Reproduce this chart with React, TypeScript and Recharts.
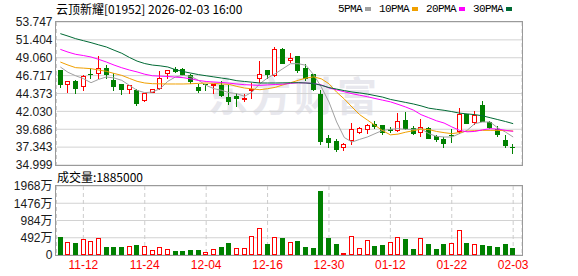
import { ComposedChart, Bar, Line, XAxis, YAxis, CartesianGrid } from 'recharts'

const dates = [
  '11-07', '11-10', '11-11', '11-12', '11-13', '11-14', '11-17', '11-18', '11-19', '11-20',
  '11-21', '11-24', '11-25', '11-26', '11-27', '11-28', '12-01', '12-02', '12-03', '12-04',
  '12-05', '12-08', '12-09', '12-10', '12-11', '12-12', '12-15', '12-16', '12-17', '12-18',
  '12-19', '12-22', '12-23', '12-24', '12-29', '12-30', '12-31', '01-02', '01-05', '01-06',
  '01-07', '01-08', '01-09', '01-12', '01-13', '01-14', '01-15', '01-16', '01-19', '01-20',
  '01-21', '01-22', '01-23', '01-26', '01-27', '01-28', '01-29', '01-30', '02-02', '02-03',
]

const opens = [
  47.41, 45.44, 45.97, 45.18, 46.97, 46.89, 47.72, 46.1, 45.62, 44.79,
  44.79, 43.39, 44.48, 45.01, 46.97, 47.54, 47.63, 46.75, 45.23, 45.62,
  45.55, 45.53, 43.91, 44.04, 43.7, 44.79, 46.32, 47.41, 46.67, 50.25,
  48.59, 49.29, 47.72, 46.89, 44.35, 38.54, 38.1, 37.27, 38.1, 39.24,
  39.54, 40.33, 40.2, 39.76, 39.46, 40.85, 39.85, 39.19, 39.85, 38.76,
  38.45, 38.93, 39.32, 41.64, 40.5, 42.82, 40.64, 39.76, 38.32, 37.38,
]
const highs = [
  47.5, 45.97, 46.1, 46.75, 47.72, 49.29, 48.15, 47.06, 45.66, 45.5,
  44.92, 44.5, 44.95, 47.32, 47.45, 47.8, 47.7, 46.93, 45.66, 45.66,
  45.65, 45.97, 45.53, 44.48, 44.35, 45.75, 48.59, 47.45, 50.47, 50.3,
  49.73, 49.35, 48.28, 46.97, 44.79, 38.89, 38.36, 37.92, 40.55, 39.95,
  40.33, 40.77, 40.28, 39.98, 41.86, 41.95, 40.11, 41.07, 39.98, 38.98,
  38.67, 39.76, 42.47, 41.73, 42.03, 43.39, 40.72, 40.11, 38.89, 37.79,
]
const lows = [
  45.14, 44.48, 44.35, 44.66, 46.23, 46.32, 46.32, 44.75, 44.22, 44.35,
  42.78, 43.26, 44.4, 44.79, 46.32, 47.1, 46.67, 45.62, 44.48, 44.66,
  44.35, 43.91, 42.82, 42.6, 43.26, 43.7, 45.75, 46.23, 46.54, 48.2,
  48.41, 47.1, 45.97, 44.66, 37.57, 37.27, 36.7, 36.83, 37.57, 39.02,
  39.02, 39.67, 38.89, 39.24, 39.32, 39.54, 38.89, 38.67, 38.36, 38.01,
  37.23, 37.92, 39.11, 40.38, 40.2, 40.6, 39.76, 38.67, 37.23, 36.48,
]
const closes = [
  45.44, 45.97, 45.01, 46.67, 46.84, 47.67, 46.75, 45.27, 44.87, 45.44,
  43.04, 44.44, 44.92, 46.45, 47.41, 47.19, 46.84, 45.88, 44.7, 45.44,
  45.6, 44.04, 43.26, 43.7, 43.75, 44.92, 46.92, 46.85, 50.16, 48.28,
  49.07, 47.32, 46.23, 44.79, 38.01, 37.92, 36.92, 37.79, 39.67, 39.89,
  40.2, 39.98, 39.24, 39.41, 40.72, 39.67, 39.11, 39.98, 38.45, 38.32,
  37.79, 38.89, 41.73, 40.42, 41.6, 40.64, 39.85, 38.98, 37.45, 37.34,
]
// close of the session before 11-07
const prevClose = 47.2

// volume in 万 shares
const volumes = [
  500, 357, 329, 462, 386, 491, 214, 214, 214, 243,
  272, 262, 129, 233, 176, 100, 100, 129, 129, 90,
  157, 214, 329, 205, 186, 548, 777, 300, 519, 472,
  357, 386, 214, 186, 1815, 472, 300, 43, 529, 205,
  434, 243, 272, 357, 519, 443, 157, 491, 300, 157,
  300, 329, 720, 329, 300, 272, 243, 214, 300, 188.5,
]

const ma5 = [
  47.85, 47.15, 46.7, 46.32, 45.79, 46.23, 46.54, 46.41, 46.1, 45.44,
  44.79, 44.48, 44.57, 45.01, 45.97, 46.54, 46.75, 46.62, 46.1, 45.44,
  45.01, 44.79, 44.48, 44.35, 44.0, 44.57, 45.66, 46.41, 46.97, 47.63,
  48.28, 48.28, 48.07, 46.84, 45.23, 43.26, 40.64, 38.6, 38.01, 38.36,
  38.67, 39.11, 39.54, 39.67, 39.76, 39.67, 39.67, 39.76, 39.11, 38.76,
  38.67, 38.67, 39.11, 39.54, 40.42, 40.64, 40.64, 39.85, 39.32, 38.67,
]
const ma10 = [
  48.5, 48.1, 47.76, 47.7, 47.63, 47.45, 47.28, 47.0, 46.75, 46.35,
  45.97, 45.75, 45.66, 45.64, 45.62, 45.62, 45.62, 45.65, 45.7, 45.75,
  45.7, 45.62, 45.57, 45.3, 45.09, 44.98, 44.87, 45.0, 45.18, 45.5,
  45.79, 46.1, 46.4, 46.55, 46.3, 45.65, 44.55, 43.65, 42.6, 41.6,
  40.9, 40.2, 39.5, 38.95, 39.05, 39.3, 39.5, 39.7, 39.65, 39.4,
  39.24, 39.11, 39.25, 39.45, 39.5, 39.54, 39.54, 39.54, 39.5, 39.46,
]
const ma20 = [
  50.16, 49.8, 49.51, 49.35, 49.16, 48.85, 48.5, 48.1, 47.75, 47.45,
  47.2, 46.9, 46.7, 46.65, 46.6, 46.52, 46.45, 46.3, 46.08, 45.95,
  45.88, 45.82, 45.73, 45.62, 45.53, 45.48, 45.44, 45.5, 45.55, 45.6,
  45.7, 45.78, 45.75, 45.68, 45.5, 45.1, 44.85, 44.6, 44.35, 44.15,
  43.95, 43.72, 43.5, 43.28, 42.95, 42.6, 42.2, 41.6, 41.2, 40.8,
  40.5, 40.0, 39.55, 39.35, 39.4, 39.6, 39.76, 39.7, 39.55, 39.41,
]
const ma30 = [
  52.22, 51.9, 51.56, 51.3, 51.04, 50.75, 50.47, 50.05, 49.65, 49.1,
  48.62, 48.3, 48.1, 48.0, 47.85, 47.5, 47.25, 47.05, 46.85, 46.7,
  46.55, 46.4, 46.25, 46.05, 45.95, 45.85, 45.75, 45.75, 45.75, 45.77,
  45.78, 45.79, 45.75, 45.68, 45.45, 45.15, 44.95, 44.75, 44.57, 44.45,
  44.3, 44.1, 43.9, 43.6, 43.4, 43.2, 43.0, 42.75, 42.45, 42.3,
  42.17, 42.0, 41.8, 41.7, 41.6, 41.45, 41.2, 40.95, 40.7, 40.42,
]

const dateTicks = ['11-12', '11-24', '12-04', '12-16', '12-30', '01-12', '01-22', '02-03']
const priceTicks = [34.999, 37.343, 39.686, 42.03, 44.373, 46.717, 49.06, 51.404, 53.747]
const volumeTicks = [0, 492, 984, 1476, 1968]

const legendItems = [
  { label: '5PMA', color: '#a0a0a0' },
  { label: '10PMA', color: '#f0a000' },
  { label: '20PMA', color: '#ff00ff' },
  { label: '30PMA', color: '#006a35' },
]

const RED = '#ff0000'
const GREEN = '#008000'
const tickFont = 'Liberation Sans, Arial, "Noto Sans CJK SC", sans-serif'
const cjkFont = '"Noto Sans CJK SC", "Liberation Sans", sans-serif'

const rows = dates.map((date, i) => ({
  date,
  open: opens[i],
  high: highs[i],
  low: lows[i],
  close: closes[i],
  range: [lows[i], highs[i]],
  vol: volumes[i],
  volUp: closes[i] > (i > 0 ? closes[i - 1] : prevClose),
  ma5: ma5[i],
  ma10: ma10[i],
  ma20: ma20[i],
  ma30: ma30[i],
}))

function Candle(props: any) {
  const { x, y, width, height, payload } = props
  if (x == null || y == null) return null
  const { open, close, high, low } = payload
  const up = close > open
  const color = up ? RED : GREEN
  const top0 = Math.min(y, y + height)
  const h = Math.abs(height)
  const ratio = high > low ? h / (high - low) : 0
  const yOf = (v: number) => top0 + (high - v) * ratio
  const bx = Math.round(x)
  const w = Math.round(width)
  const cx = bx + Math.floor(w / 2) + 0.5
  const bodyTop = Math.round(yOf(Math.max(open, close)))
  const bodyBot = Math.round(yOf(Math.min(open, close)))
  const wickTop = Math.round(top0)
  const wickBot = Math.round(top0 + h)
  return (
    <g>
      <line x1={cx} x2={cx} y1={wickTop} y2={bodyTop} stroke={color} />
      <line x1={cx} x2={cx} y1={bodyBot} y2={wickBot} stroke={color} />
      {up ? (
        <rect x={bx + 0.5} y={bodyTop + 0.5} width={w - 1} height={Math.max(bodyBot - bodyTop - 1, 1)} fill="#fff" stroke={color} />
      ) : (
        <rect x={bx} y={bodyTop} width={w} height={Math.max(bodyBot - bodyTop, 1)} fill={color} />
      )}
    </g>
  )
}

function VolumeBar(props: any) {
  const { x, y, width, height, payload } = props
  if (x == null || y == null) return null
  const bx = Math.round(x)
  const w = Math.round(width)
  const top = Math.round(Math.min(y, y + height))
  const bot = Math.round(Math.max(y, y + height))
  if (payload.volUp) {
    return <rect x={bx + 0.5} y={top + 0.5} width={w - 1} height={Math.max(bot - top - 1, 1)} fill="#fff" stroke={RED} />
  }
  return <rect x={bx} y={top} width={w} height={Math.max(bot - top, 1)} fill={GREEN} />
}

export default function App() {
  return (
    <div style={{ position: 'absolute', left: 0, top: 0, width: 578, height: 276, background: '#fff', overflow: 'hidden' }}>
      {/* watermark */}
      <div
        style={{
          position: 'absolute',
          left: 208,
          top: 68,
          fontSize: 40,
          fontWeight: 700,
          letterSpacing: 3,
          color: '#e8e8ee',
          fontFamily: cjkFont,
          lineHeight: '52px',
          whiteSpace: 'nowrap',
        }}
      >
        东方财富
      </div>

      <div style={{ position: 'absolute', left: 56, top: 0, fontSize: 12, lineHeight: '17px', fontFamily: cjkFont, color: '#000', whiteSpace: 'nowrap' }}>
        云顶新耀[01952] 2026-02-03 16:00
      </div>

      <div style={{ position: 'absolute', left: 338, top: 1, display: 'flex', alignItems: 'center', height: 16 }}>
        {legendItems.map((item) => (
          <div key={item.label} style={{ display: 'flex', alignItems: 'center', marginRight: 8 }}>
            <span style={{ fontFamily: '"Liberation Mono", monospace', fontSize: 11, letterSpacing: -0.6, color: '#000' }}>
              {item.label}
            </span>
            <span style={{ display: 'inline-block', width: 6, height: 4, background: item.color, marginLeft: 3 }} />
          </div>
        ))}
      </div>

      <div style={{ position: 'absolute', left: 0, top: 0 }}>
        <ComposedChart width={578} height={178} data={rows} margin={{ top: 22, right: 56, bottom: 13, left: 0 }}>
          <CartesianGrid vertical={false} stroke="#d2d2d2" />
          <CartesianGrid horizontal={false} stroke="#cccccc" strokeDasharray="4 3" />
          <XAxis
            dataKey="date"
            ticks={dateTicks}
            interval={0}
            height={0}
            tick={false}
            axisLine={false}
            tickLine={false}
            padding={{ left: 0, right: 5 }}
          />
          <YAxis
            type="number"
            domain={[34.999, 53.747]}
            ticks={priceTicks}
            interval={0}
            width={56.5}
            axisLine={false}
            tickLine={false}
            tickSize={0}
            tickMargin={4}
            allowDataOverflow
            tickFormatter={(v: number) => v.toFixed(3)}
            tick={{ fill: '#1a1a1a', fontSize: 12, fontFamily: tickFont }}
          />
          <Bar dataKey="range" barSize={5} shape={(p: any) => <Candle {...p} />} isAnimationActive={false} />
          <Line dataKey="ma5" stroke="#a0a0a0" strokeWidth={1} dot={false} activeDot={false} isAnimationActive={false} />
          <Line dataKey="ma10" stroke="#f0a000" strokeWidth={1} dot={false} activeDot={false} isAnimationActive={false} />
          <Line dataKey="ma20" stroke="#ff00ff" strokeWidth={1} dot={false} activeDot={false} isAnimationActive={false} />
          <Line dataKey="ma30" stroke="#006a35" strokeWidth={1} dot={false} activeDot={false} isAnimationActive={false} />
        </ComposedChart>
      </div>

      <div style={{ position: 'absolute', left: 55, top: 21, width: 468, height: 145, border: '1px solid #9a9a9a', boxSizing: 'border-box', pointerEvents: 'none' }} />

      <div style={{ position: 'absolute', left: 57, top: 168, fontSize: 12, lineHeight: '17px', fontFamily: cjkFont, color: '#000', whiteSpace: 'nowrap' }}>
        成交量:1885000
      </div>

      <div style={{ position: 'absolute', left: 0, top: 170 }}>
        <ComposedChart width={578} height={106} data={rows} margin={{ top: 16, right: 56, bottom: 0, left: 0 }}>
          <CartesianGrid vertical={false} stroke="#d2d2d2" />
          <CartesianGrid horizontal={false} stroke="#cccccc" strokeDasharray="4 3" />
          <XAxis
            dataKey="date"
            ticks={dateTicks}
            interval={0}
            height={21}
            axisLine={false}
            tickLine={false}
            tickSize={0}
            tickMargin={5}
            padding={{ left: 0, right: 5 }}
            tick={{ fill: RED, fontSize: 12, fontFamily: tickFont }}
          />
          <YAxis
            type="number"
            domain={[0, 1968]}
            ticks={volumeTicks}
            interval={0}
            width={56.5}
            axisLine={false}
            tickLine={false}
            tickSize={0}
            tickMargin={4}
            allowDataOverflow
            tickFormatter={(v: number) => (v === 0 ? '0' : `${v}万`)}
            tick={{ fill: '#1a1a1a', fontSize: 12, fontFamily: tickFont }}
          />
          <Bar dataKey="vol" barSize={5} shape={(p: any) => <VolumeBar {...p} />} isAnimationActive={false} />
        </ComposedChart>
      </div>

      <div style={{ position: 'absolute', left: 55, top: 185, width: 468, height: 71, border: '1px solid #9a9a9a', boxSizing: 'border-box', pointerEvents: 'none' }} />
    </div>
  )
}
